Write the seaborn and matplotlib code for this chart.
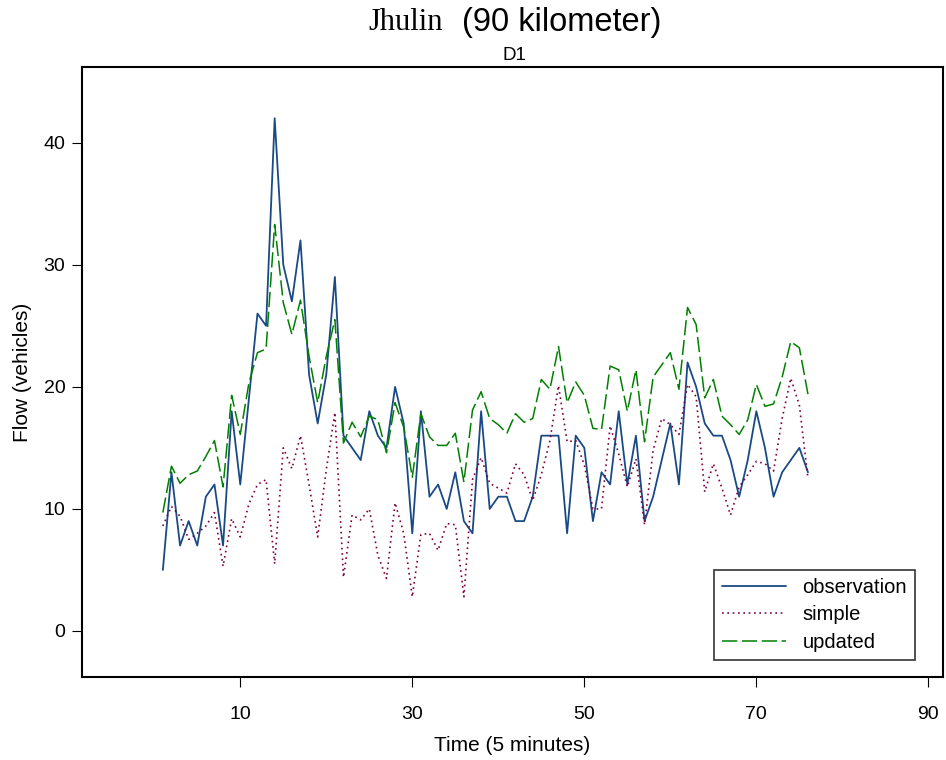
import numpy as np
import pandas as pd
import matplotlib
matplotlib.use("Agg")
import matplotlib.pyplot as plt
import seaborn as sns

time = list(range(1, 77))
observation = [5, 13, 7, 9, 7, 11, 12, 7, 18, 12,
               19, 26, 25, 42, 30, 27, 32, 21, 17, 21,
               29, 16, 15, 14, 18, 16, 15, 20, 17, 8,
               18, 11, 12, 10, 13, 9, 8, 18, 10, 11,
               11, 9, 9, 11, 16, 16, 16, 8, 16, 15,
               9, 13, 12, 18, 12, 16, 9, 11, 14, 17,
               12, 22, 20, 17, 16, 16, 14, 11, 14, 18,
               15, 11, 13, 14, 15, 13]
simple = [8.6, 10.2, 9.4, 7.5, 8.0, 8.6, 9.7, 5.3, 9.2, 7.7,
          10.4, 12.0, 12.4, 5.5, 15.0, 13.3, 16.0, 12.0, 7.7, 13.2,
          17.9, 4.4, 9.5, 9.1, 10.0, 6.2, 4.3, 10.5, 8.0, 2.8,
          7.9, 8.0, 6.6, 8.8, 8.7, 2.8, 12.4, 14.2, 12.1, 11.7,
          11.3, 13.7, 12.8, 10.7, 12.8, 15.6, 20.1, 15.5, 15.6, 13.6,
          10.0, 10.0, 16.8, 14.5, 11.8, 14.1, 8.7, 14.8, 17.4, 16.9,
          16.1, 20.2, 19.2, 11.4, 13.7, 11.7, 9.5, 11.8, 12.8, 13.9,
          13.7, 13.1, 17.4, 20.7, 18.5, 12.5]
updated = [9.7, 13.5, 12.1, 12.8, 13.1, 14.3, 15.6, 11.8, 19.3, 16.1,
           20.3, 22.8, 23.1, 33.3, 26.9, 24.3, 27.1, 22.5, 18.7, 22.5,
           25.5, 15.4, 17.1, 15.9, 17.6, 17.3, 14.6, 18.7, 16.7, 12.6,
           17.8, 15.9, 15.2, 15.2, 16.2, 12.2, 18.1, 19.6, 17.4, 16.9,
           16.2, 17.8, 17.1, 17.4, 20.6, 19.8, 23.3, 18.7, 20.4, 19.3,
           16.6, 16.5, 21.7, 21.4, 18.0, 21.4, 15.5, 20.8, 21.8, 22.8,
           19.8, 26.5, 25.1, 19.1, 20.6, 17.6, 16.9, 16.1, 17.3, 20.2,
           18.4, 18.6, 20.8, 23.7, 23.2, 19.4]

x_ticks = [10, 30, 50, 70, 90]
y_ticks = [0, 10, 20, 30, 40]

df = pd.DataFrame({"time": time, "observation": observation,
                   "simple": simple, "updated": updated})

sns.set_style("white")
plt.rcParams["font.family"] = ["Liberation Sans", "DejaVu Sans"]
plt.rcParams["text.color"] = "black"
plt.rcParams["axes.labelcolor"] = "black"

fig = plt.figure(figsize=(9.46, 7.60), dpi=100)
ax = fig.add_axes([82/946, 1-677/760, (943-82)/946, (677-67)/760])

sns.lineplot(data=df, x="time", y="observation", ax=ax, color="#1a4a85",
             linewidth=1.3, label="observation")
sns.lineplot(data=df, x="time", y="simple", ax=ax, color="#800040",
             linewidth=1.2, linestyle=(0, (1, 2.2)), label="simple")
sns.lineplot(data=df, x="time", y="updated", ax=ax, color="#008000",
             linewidth=1.1, linestyle=(0, (10, 3)), label="updated")

ax.set_xlim(-8.4, 91.7)
ax.set_ylim(-3.77, 46.2)
ax.set_xticks(x_ticks)
ax.set_yticks(y_ticks)
ax.tick_params(axis="both", direction="out", length=7, width=0.8,
               labelsize=14, colors="black", bottom=True, left=True, pad=5)
ax.tick_params(axis="x", pad=14)
for s in ax.spines.values():
    s.set_color("black")
    s.set_linewidth(1.5)
ax.set_xlabel("Time (5 minutes)", fontsize=15, labelpad=9, color="black")
ax.set_ylabel("Flow (vehicles)", fontsize=15, labelpad=8, color="black")

leg = ax.legend(loc="lower right", fontsize=14.5, frameon=True, fancybox=False,
                edgecolor="black", handlelength=3.2, borderpad=0.4,
                labelspacing=0.42, borderaxespad=0, handletextpad=0.8,
                bbox_to_anchor=((915-82)/861, (677-660)/610))
leg.get_frame().set_linewidth(1.2)
for t in leg.get_texts():
    t.set_color("black")

fig.text(443/946, 1-22/760, "Jhulin", ha="right", va="center",
         fontsize=22, family=["Liberation Serif", "DejaVu Serif"])
fig.text(462/946, 1-22/760, "(90 kilometer)", ha="left", va="center",
         fontsize=23.5)
fig.text(514/946, 1-56/760, "D1", ha="center", va="center", fontsize=13.5)

fig.savefig("out.png", dpi=100)
